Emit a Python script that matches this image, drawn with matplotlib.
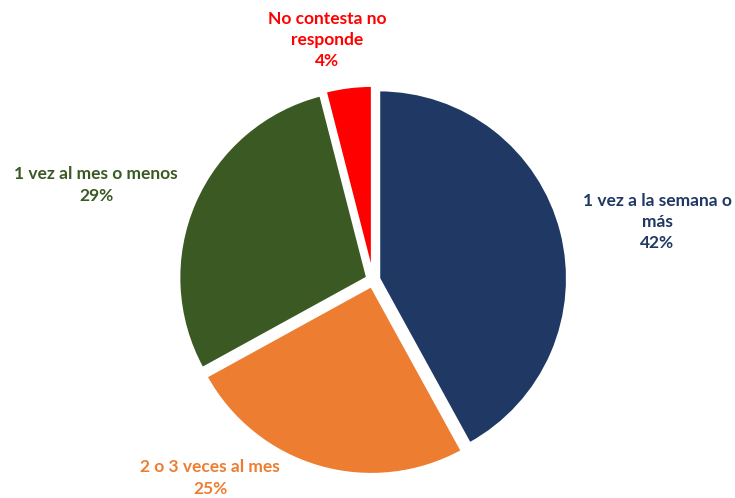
import matplotlib
matplotlib.use('Agg')
import matplotlib.pyplot as plt

# Data
labels = ['1 vez a la semana o\nmás', '2 o 3 veces al mes', '1 vez al mes o menos', 'No contesta no\nresponde']
values = [42, 25, 29, 4]
colors = ['#1F3864', '#ED7D31', '#3B5A23', '#FF0000']

# label centres in pixels (x from left, y from top)
label_px = [(657, 222), (210, 478), (96, 185), (327, 40)]

plt.rcParams['font.family'] = ['Lato', 'DejaVu Sans']

fig = plt.figure(figsize=(7.35, 4.98), dpi=100)
R = 188.5
cx, cy = 373, 498 - 280
half = 2.0 * R
ax = fig.add_axes([(cx - half) / 735, (cy - half) / 498, 2 * half / 735, 2 * half / 498])

ax.pie(values, colors=colors, startangle=90, counterclock=False,
       explode=[0.032] * len(values),
       wedgeprops=dict(edgecolor='white', linewidth=2))

for lab, v, c, (px, py) in zip(labels, values, colors, label_px):
    x = (px - 373) / R
    y = (280 - py) / R
    ax.text(x, y, f'{lab}\n{v}%', color=c, ha='center', va='center',
            fontsize=12.5, fontweight='bold', linespacing=1.4)

ax.set_xlim(-2.0, 2.0)
ax.set_ylim(-2.0, 2.0)
ax.set_aspect('equal')
ax.axis('off')

fig.savefig('out.png', dpi=100)
